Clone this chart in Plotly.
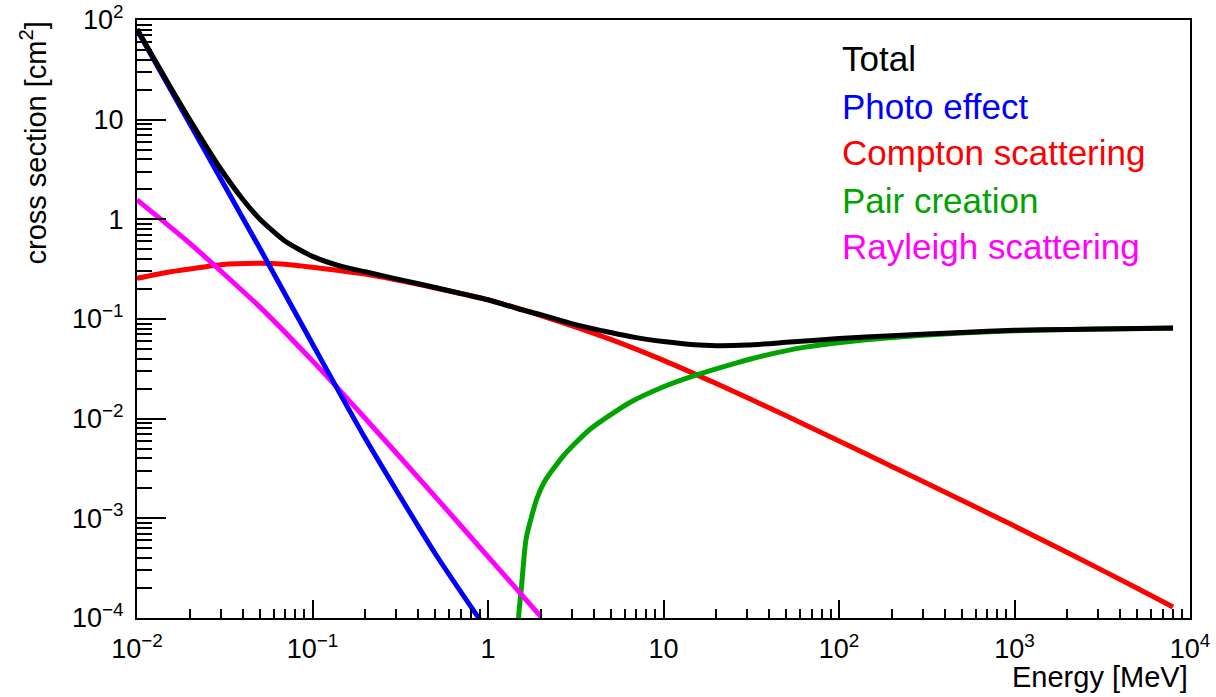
import plotly.graph_objects as go

# Photon interaction cross sections vs. energy (MeV)
photo_E = [0.01, 0.02, 0.05, 0.1, 0.2, 0.5, 1.0]
photo_xs = [79.4, 9.08, 0.515, 0.0561, 0.00632, 4.44e-4, 7.31e-5]

rayleigh_E = [0.01, 0.02, 0.05, 0.1, 0.2, 0.5, 1.0, 2.0]
rayleigh_xs = [1.567, 0.574, 0.1324, 0.0380, 0.01005, 1.652e-3, 4.13e-4,
               1.033e-4]

compton_E = [0.01, 0.015, 0.02, 0.03, 0.05, 0.07, 0.1, 0.2, 0.5, 1, 2, 5, 10,
             20, 50, 100, 200, 500, 1000, 2000, 5000, 8000]
compton_xs = [0.256, 0.295, 0.318, 0.351, 0.363, 0.355, 0.331, 0.282, 0.205,
              0.1556, 0.1084, 0.0625, 0.0385, 0.0225, 0.0107, 0.00598,
              0.00332, 0.00152, 8.36e-4, 4.54e-4, 1.99e-4, 1.29e-4]

pair_E = [1.462, 1.5, 1.55, 1.65, 1.9, 2.1, 2.7, 3.8, 6.4, 10, 14, 25, 38, 63,
          115, 300, 1000, 3000, 8000]
pair_xs = [3.2e-5, 1.12e-4, 2.0e-4, 6.3e-4, 1.58e-3, 2.34e-3, 4.27e-3,
           7.78e-3, 0.01445, 0.0209, 0.0260, 0.0355, 0.0432, 0.0519, 0.0596,
           0.0687, 0.0762, 0.0794, 0.0809]

total_E = [0.01, 0.015, 0.02, 0.03, 0.04, 0.05, 0.07, 0.1, 0.15, 0.2, 0.3,
           0.5, 1, 1.5, 2, 3, 5, 7, 10, 15, 20, 30, 50, 100, 200, 500, 1000,
           2000, 5000, 8000]
total_xs = [81.2, 23.5, 9.97, 3.20, 1.59, 1.01, 0.603, 0.425, 0.333, 0.298,
            0.2525, 0.207, 0.156, 0.126, 0.1105, 0.090, 0.0731, 0.0650,
            0.0594, 0.0551, 0.0540, 0.0548, 0.0583, 0.0637, 0.0680, 0.0733,
            0.0770, 0.0786, 0.0804, 0.0810]

series_names = ["Total", "Photo effect", "Compton scattering", "Pair creation",
                "Rayleigh scattering"]
series_colors = ["#000000", "#0000ff", "#ff0000", "#00a300", "#ff00ff"]

x_tickvals = [1e-2, 1e-1, 1, 10, 1e2, 1e3, 1e4]
x_ticktext = ["10<sup>\u22122</sup>", "10<sup>\u22121</sup>", "1", "10",
              "10<sup>2</sup>", "10<sup>3</sup>", "10<sup>4</sup>"]
y_tickvals = [1e-4, 1e-3, 1e-2, 1e-1, 1, 10, 1e2]
y_ticktext = ["10<sup>\u22124</sup>", "10<sup>\u22123</sup>", "10<sup>\u22122</sup>",
              "10<sup>\u22121</sup>", "1", "10", "10<sup>2</sup>"]

FONT = "Liberation Sans, Arial, Helvetica, sans-serif"


def minor_vals(lo, hi):
    vals = []
    for p in range(lo, hi):
        for d in range(2, 10):
            vals.append(d * 10.0 ** p)
    return vals


fig = go.Figure()

draw_order = [
    (compton_E, compton_xs, 2),
    (pair_E, pair_xs, 3),
    (rayleigh_E, rayleigh_xs, 4),
    (photo_E, photo_xs, 1),
    (total_E, total_xs, 0),
]
for xs, ys, idx in draw_order:
    fig.add_trace(go.Scatter(
        x=xs, y=ys, mode="lines", name=series_names[idx],
        line=dict(color=series_colors[idx], width=5, shape="spline",
                  smoothing=0.6),
        showlegend=False,
    ))

axis_common = dict(
    type="log", showgrid=False, zeroline=False, showline=True,
    linecolor="black", linewidth=2, mirror=True, ticks="inside",
    tickcolor="black", tickwidth=1.5, tickmode="array", automargin=False,
    tickfont=dict(family=FONT, size=27, color="black"),
)

fig.update_xaxes(
    **axis_common, range=[-2, 4], tickvals=x_tickvals, ticktext=x_ticktext,
    ticklen=18, ticklabelstandoff=6,
    minor=dict(ticks="inside", ticklen=9, tickcolor="black", tickwidth=1.5,
               tickmode="array", tickvals=minor_vals(-2, 4)),
)
fig.update_yaxes(
    **axis_common, range=[-4, 2], tickvals=y_tickvals, ticktext=y_ticktext,
    ticklen=29, ticklabelstandoff=6,
    minor=dict(ticks="inside", ticklen=15, tickcolor="black", tickwidth=1.5,
               tickmode="array", tickvals=minor_vals(-4, 2)),
)

annotations = []
legend_y = [59, 106, 153, 200, 247]  # pixel rows of the label centres
plot_left, plot_right = 137, 1190
plot_top, plot_bottom = 20, 618
plot_w = plot_right - plot_left
plot_h = plot_bottom - plot_top
for name, color, py in zip(series_names, series_colors, legend_y):
    annotations.append(dict(
        text=name, xref="paper", yref="paper", x=(840 - plot_left) / plot_w,
        y=(plot_bottom - py) / plot_h, xanchor="left", yanchor="middle",
        showarrow=False, font=dict(family=FONT, size=35, color=color),
    ))

annotations.append(dict(
    text="cross section [cm<sup>2</sup>]", xref="paper", yref="paper",
    x=(33 - plot_left) / plot_w, y=1.0, xanchor="center", yanchor="top",
    textangle=-90, showarrow=False,
    font=dict(family=FONT, size=29, color="black"),
))
annotations.append(dict(
    text="Energy [MeV]", xref="paper", yref="paper", x=1.0,
    y=(plot_bottom - 677) / plot_h, xanchor="right", yanchor="middle",
    showarrow=False, font=dict(family=FONT, size=29, color="black"),
))

fig.update_layout(
    width=1216, height=697,
    margin=dict(l=plot_left, r=1216 - plot_right, t=plot_top,
                b=697 - plot_bottom, autoexpand=False),
    paper_bgcolor="white", plot_bgcolor="white",
    annotations=annotations,
)

fig.write_html("out.html")
